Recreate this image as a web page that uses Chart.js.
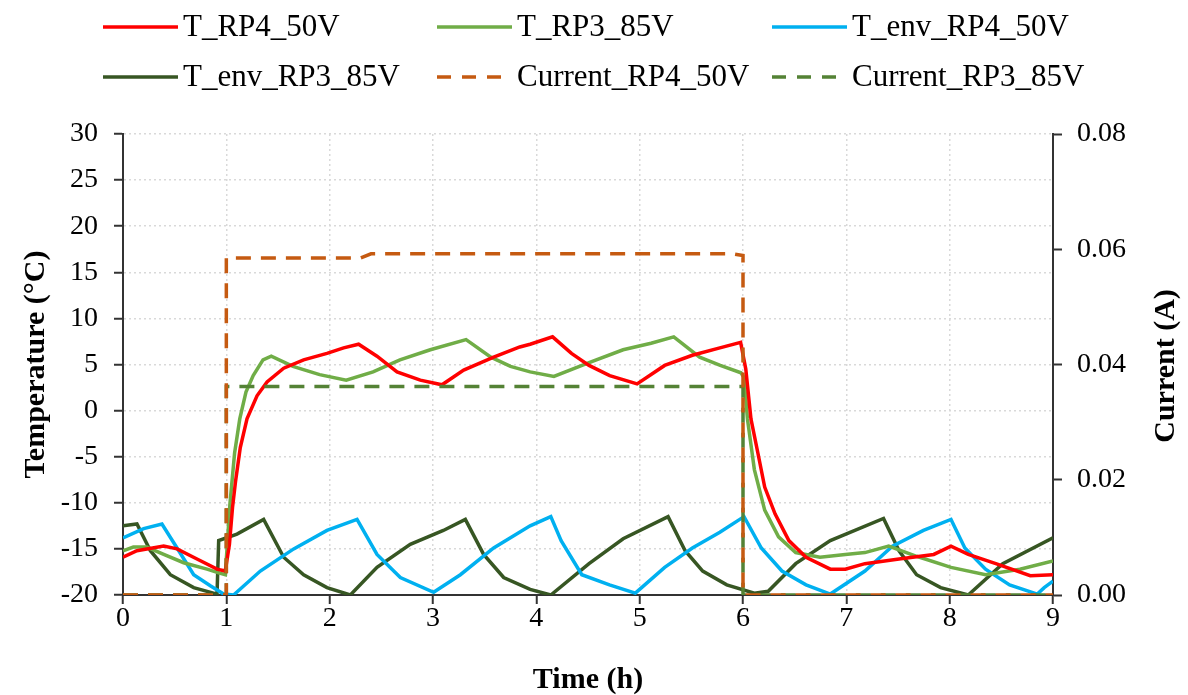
<!DOCTYPE html>
<html>
<head>
<meta charset="utf-8">
<title>Temperature and current</title>
<script src="https://cdn.jsdelivr.net/npm/chart.js@4.4.1/dist/chart.umd.min.js"></script>
<style>
    body { margin: 0; background: #fff; }
    #wrap { width: 1188px; height: 695px; }
</style>
</head>
<body>
<div id="wrap"><canvas id="grafico" width="1188" height="695"></canvas></div>
<script>
// time (h) and values
const tempoRP4 = [0, 0.135, 0.394, 0.523, 0.716, 0.91, 0.99, 1.03, 1.06, 1.09, 1.135, 1.2, 1.297, 1.394, 1.555, 1.748, 1.974, 2.135, 2.28, 2.458, 2.652, 2.877, 3.087, 3.297, 3.587, 3.84, 3.94, 4.157, 4.34, 4.51, 4.71, 4.975, 5.242, 5.51, 5.776, 5.977, 6.027, 6.077, 6.144, 6.21, 6.31, 6.444, 6.61, 6.845, 6.99, 7.18, 7.51, 7.846, 8.013, 8.18, 8.447, 8.78, 9.0];
const valoresRP4 = [-15.9, -15.2, -14.7, -15.0, -16.1, -17.2, -17.4, -14.5, -10.5, -7.6, -4.0, -0.9, 1.6, 3.1, 4.6, 5.5, 6.2, 6.8, 7.2, 5.9, 4.2, 3.3, 2.8, 4.4, 5.8, 6.9, 7.2, 8.0, 6.2, 4.9, 3.8, 2.9, 4.9, 6.0, 6.8, 7.4, 4.5, -0.9, -4.6, -8.3, -11.2, -14.1, -15.9, -17.2, -17.2, -16.6, -16.1, -15.6, -14.7, -15.6, -16.6, -17.9, -17.8];

const tempoRP3 = [0, 0.1, 0.23, 0.394, 0.587, 0.813, 0.926, 0.99, 1.035, 1.08, 1.13, 1.19, 1.26, 1.355, 1.435, 1.645, 1.903, 2.16, 2.42, 2.68, 2.974, 3.32, 3.56, 3.75, 3.94, 4.17, 4.51, 4.84, 5.11, 5.33, 5.58, 5.78, 5.98, 6.01, 6.043, 6.11, 6.21, 6.344, 6.51, 6.745, 6.99, 7.18, 7.41, 7.68, 8.013, 8.347, 8.68, 9.0];
const valoresRP3 = [-15.2, -14.8, -14.8, -15.6, -16.5, -17.2, -17.6, -17.8, -10.1, -4.6, -0.9, 2.0, 3.8, 5.5, 5.9, 4.8, 3.9, 3.3, 4.2, 5.5, 6.6, 7.7, 5.8, 4.8, 4.2, 3.7, 5.2, 6.6, 7.3, 8.0, 5.8, 4.9, 4.1, 3.6, -0.9, -6.4, -10.8, -13.7, -15.4, -15.9, -15.6, -15.4, -14.7, -15.8, -17.0, -17.8, -17.2, -16.3];

const tempoEnvRP4 = [0, 0.2, 0.377, 0.523, 0.684, 0.845, 0.974, 1.07, 1.329, 1.652, 1.974, 2.265, 2.458, 2.684, 3.006, 3.265, 3.587, 3.94, 4.14, 4.24, 4.44, 4.708, 4.958, 5.242, 5.51, 5.776, 6.01, 6.177, 6.377, 6.61, 6.845, 7.18, 7.446, 7.746, 8.013, 8.147, 8.347, 8.58, 8.848, 8.915, 9.0];
const valoresEnvRP4 = [-13.8, -12.8, -12.3, -14.9, -17.8, -19.0, -19.9, -20.0, -17.4, -15.0, -13.0, -11.8, -15.6, -18.1, -19.7, -17.8, -14.9, -12.5, -11.5, -14.1, -17.8, -18.9, -19.8, -17.0, -14.9, -13.2, -11.5, -14.9, -17.4, -18.9, -19.9, -17.4, -14.7, -13.0, -11.8, -14.9, -17.2, -18.9, -19.9, -19.2, -18.5];

const tempoEnvRP3 = [0, 0.135, 0.265, 0.458, 0.684, 0.91, 0.926, 1.103, 1.361, 1.555, 1.748, 1.974, 2.2, 2.458, 2.78, 3.1, 3.313, 3.49, 3.684, 3.94, 4.14, 4.51, 4.84, 5.275, 5.44, 5.61, 5.843, 6.11, 6.244, 6.51, 6.845, 7.36, 7.51, 7.68, 7.913, 8.18, 8.514, 9.0];
const valoresEnvRP3 = [-12.5, -12.3, -15.2, -17.8, -19.2, -19.9, -14.1, -13.4, -11.8, -15.9, -17.8, -19.2, -20.0, -17.0, -14.5, -13.0, -11.8, -15.6, -18.1, -19.4, -20.0, -16.6, -13.9, -11.5, -15.2, -17.4, -18.9, -19.8, -19.6, -16.6, -14.1, -11.7, -15.2, -17.8, -19.2, -20.0, -16.6, -13.8];

const tempoCorrenteRP4 = [0, 1, 1, 2.3, 2.4, 5.9, 6, 6, 9];
const correnteRP4 = [0, 0, 0.0585, 0.0585, 0.0592, 0.0592, 0.0589, 0, 0];
const tempoCorrenteRP3 = [0, 1, 1, 6, 6, 9];
const correnteRP3 = [0, 0, 0.0362, 0.0362, 0, 0];

const nomesSeries = ['T_RP4_50V', 'T_RP3_85V', 'T_env_RP4_50V', 'T_env_RP3_85V', 'Current_RP4_50V', 'Current_RP3_85V'];
const cores = ['#ff0000', '#70ad47', '#00b0f0', '#375623', '#c55a11', '#548235'];
const tracejado = [false, false, false, false, true, true];

const fonte = "'Liberation Serif', 'Times New Roman', serif";
const dash = [15, 10];

function pontos(xs, ys) {
    return xs.map((x, i) => ({ x: x, y: ys[i] }));
}

const series = [
    pontos(tempoRP4, valoresRP4),
    pontos(tempoRP3, valoresRP3),
    pontos(tempoEnvRP4, valoresEnvRP4),
    pontos(tempoEnvRP3, valoresEnvRP3),
    pontos(tempoCorrenteRP4, correnteRP4),
    pontos(tempoCorrenteRP3, correnteRP3)
];

const datasets = series.map((dados, i) => ({
    label: nomesSeries[i],
    data: dados,
    borderColor: cores[i],
    backgroundColor: cores[i],
    borderWidth: 3.5,
    borderDash: tracejado[i] ? dash : [],
    pointRadius: 0,
    tension: 0,
    fill: false,
    yAxisID: tracejado[i] ? 'y1' : 'y',
    order: tracejado[i] ? 0 : 1
}));

// legend drawn by hand: 2 rows x 3 columns like the original
const legendaManual = {
    id: 'legendaManual',
    afterDraw(chart) {
        const ctx = chart.ctx;
        const colX = [103, 437, 772];
        const rowY = [27, 77];
        ctx.save();
        ctx.font = '31px ' + fonte;
        ctx.textBaseline = 'middle';
        ctx.fillStyle = '#000';
        nomesSeries.forEach((nome, i) => {
            const x = colX[i % 3];
            const y = rowY[Math.floor(i / 3)];
            ctx.beginPath();
            ctx.strokeStyle = cores[i];
            ctx.lineWidth = 3.5;
            ctx.setLineDash(tracejado[i] ? [14, 11] : []);
            ctx.moveTo(x, y);
            ctx.lineTo(x + 75, y);
            ctx.stroke();
            ctx.fillText(nome, x + 80, y + 1);
        });
        // right axis title reads bottom to top
        ctx.setLineDash([]);
        ctx.font = 'bold 30px ' + fonte;
        ctx.textAlign = 'center';
        ctx.translate(1166, 366);
        ctx.rotate(-Math.PI / 2);
        ctx.fillText('Current (A)', 0, 0);
        ctx.restore();
    }
};

const ctx = document.getElementById('grafico').getContext('2d');

var chart = new Chart(ctx, {
    type: 'line',
    data: { datasets: datasets },
    plugins: [legendaManual],
    options: {
        responsive: false,
        animation: false,
        devicePixelRatio: 1,
        layout: { padding: { top: 134, left: 0, right: 0, bottom: 0 } },
        plugins: {
            legend: { display: false },
            tooltip: { enabled: false }
        },
        scales: {
            x: {
                type: 'linear',
                min: 0,
                max: 9,
                ticks: { stepSize: 1, padding: 1, color: '#000', font: { family: fonte, size: 28, lineHeight: 1 } },
                grid: { color: '#d9d9d9', lineWidth: 1.5, tickColor: '#333', tickLength: 9, tickWidth: 2, tickBorderDash: [] },
                border: { color: '#333', width: 2, dash: [2, 3] },
                title: { display: true, text: 'Time (h)', color: '#000', padding: { top: 0, bottom: -3 }, font: { family: fonte, size: 30, weight: 'bold' } },
                afterFit: function(scale) { scale.height = 100; }
            },
            y: {
                position: 'left',
                min: -20,
                max: 30,
                ticks: { stepSize: 5, padding: 16, color: '#000', font: { family: fonte, size: 28 } },
                grid: { color: '#d9d9d9', lineWidth: 1.5, tickColor: '#333', tickLength: 9, tickWidth: 2, tickBorderDash: [] },
                border: { color: '#333', width: 2, dash: [2, 3] },
                title: { display: true, text: 'Temperature (°C)', color: '#000', padding: { top: 18, bottom: 0 }, font: { family: fonte, size: 30, weight: 'bold' } },
                afterFit: function(scale) { scale.width = 123; }
            },
            y1: {
                position: 'right',
                min: 0,
                max: 0.08,
                ticks: {
                    stepSize: 0.02,
                    padding: 15,
                    color: '#000',
                    font: { family: fonte, size: 28 },
                    callback: function(v) { return v.toFixed(2); }
                },
                grid: { drawOnChartArea: false, tickColor: '#333', tickLength: 9, tickWidth: 2 },
                border: { color: '#333', width: 2 },
                afterFit: function(scale) { scale.width = 135; }
            }
        }
    }
});
</script>
</body>
</html>
